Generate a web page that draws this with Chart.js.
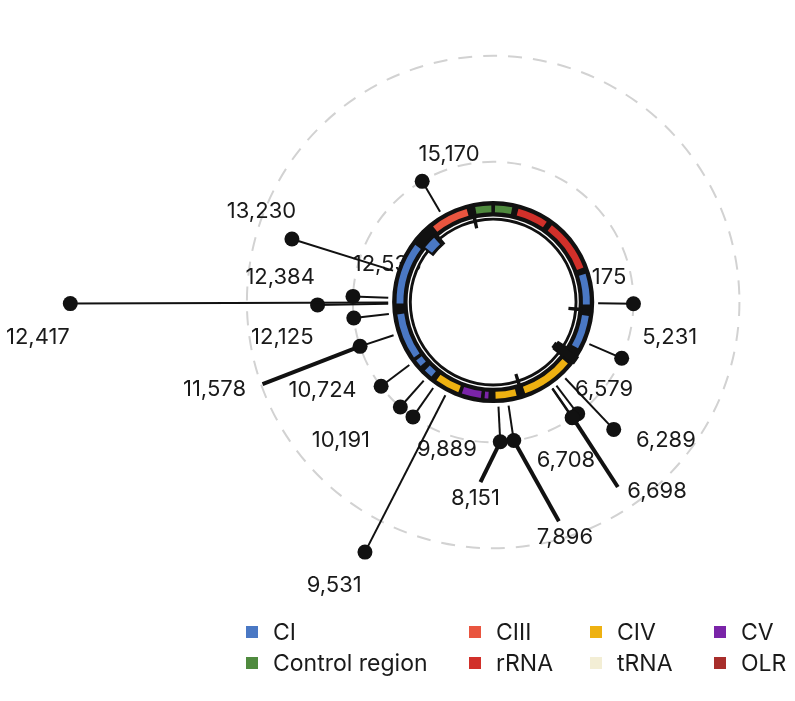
<!DOCTYPE html>
<html>
<head>
<meta charset="utf-8">
<script src="https://cdn.jsdelivr.net/npm/chart.js@4.4.1/dist/chart.umd.min.js"></script>
<style>
  body { margin: 0; background: #fff; }
  #wrap { position: relative; width: 795px; height: 701px; overflow: hidden; }
  #genomeChart { position: absolute; left: 0; top: 0; }
  .lg { position: absolute; display: flex; align-items: center; height: 28px;
        font-family: Inter, "Liberation Sans", sans-serif; font-size: 23px; color: #1a1a1a; white-space: nowrap; }
  .lg .sq { display: inline-block; width: 12px; height: 12px; margin-right: 15px; }
</style>
</head>
<body>
<div id="wrap">
  <canvas id="genomeChart" width="795" height="701"></canvas>
</div>
<script>
// mitochondrial genome length
const genomeLength = 16569;

// variant positions and number of carriers
const positions = [15170, 13230, 12533, 12417, 12384, 12125, 11578, 10724, 10191, 9889, 9531, 8151, 7896, 6708, 6698, 6579, 6289, 5231, 4175];
const counts    = [1, 3, 1, 9, 2, 1, 1, 1, 1, 1, 5, 1, 1, 1, 1, 1, 2, 1, 1];
const gridCounts = [1, 4];

// gene map (outer track = heavy strand, inner track = light strand)
const geneNames  = ["Control region", "Control region", "12S rRNA", "16S rRNA", "ND1", "ND2", "COX1", "COX2", "ATP8", "ATP6", "COX3", "ND3", "ND4L", "ND4", "ND5", "CYTB",
                    "ND6", "tRNA-Gln", "tRNA-Ala", "tRNA-Asn", "tRNA-Cys", "tRNA-Tyr", "tRNA-Ser", "tRNA-Glu", "tRNA-Pro", "OLR"];
const geneStart  = [16024, 1, 648, 1671, 3307, 4470, 5904, 7586, 8366, 8573, 9207, 10059, 10470, 10767, 12337, 14747,
                    14149, 4329, 5587, 5657, 5761, 5826, 7446, 14674, 15956, 5721];
const geneEnd    = [16569, 576, 1601, 3229, 4262, 5511, 7445, 8269, 8572, 9207, 9990, 10404, 10766, 12137, 14148, 15887,
                    14673, 4400, 5655, 5729, 5826, 5891, 7514, 14742, 16023, 5798];
const geneClass  = ["Control region", "Control region", "rRNA", "rRNA", "CI", "CI", "CIV", "CIV", "CV", "CV", "CIV", "CI", "CI", "CI", "CI", "CIII",
                    "CI", "tRNA", "tRNA", "tRNA", "tRNA", "tRNA", "tRNA", "tRNA", "tRNA", "OLR"];
const geneStrand = ["H", "H", "H", "H", "H", "H", "H", "H", "H", "H", "H", "H", "H", "H", "H", "H",
                    "L", "L", "L", "L", "L", "L", "L", "L", "L", "L"];

// legend
const legendLabels = ["CI", "CIII", "CIV", "CV", "Control region", "rRNA", "tRNA", "OLR"];
const legendColors = ["#4a78c4", "#e9553f", "#eeb111", "#7a24a8", "#4f8a3e", "#d1302a", "#f3eed5", "#a82e2b"];

// label layout (chart units) and leader lines for crowded labels
const labelPos = {
  15170: [-1.25, 4.19], 13230: [-6.56, 2.56], 12533: [-3.0, 1.08], 12417: [-12.89, -1.0],
  12384: [-6.03, 0.69], 12125: [-5.97, -1.0], 11578: [-7.89, -2.47], 10724: [-4.83, -2.5],
  10191: [-4.31, -3.94], 9889: [-1.31, -4.19], 9531: [-4.5, -8.03], 8151: [-0.5, -5.58],
  7896: [2.03, -6.69], 6708: [2.06, -4.5], 6698: [4.64, -5.36], 6579: [3.14, -2.47],
  6289: [4.89, -3.94], 5231: [5.0, -1.0], 4175: [3.03, 0.69]
};
const leaders = { 11578: [-6.53, -2.33], 8151: [-0.36, -5.11], 7896: [1.86, -6.22], 6698: [3.53, -5.25] };

// radius (chart units) where a count of zero sits
const baseRadius = 107 / 36;

function angleOf(pos) {
  return pos / genomeLength * Math.PI * 2;
}
function polar(pos, r) {
  const a = angleOf(pos);
  return { x: r * Math.sin(a), y: r * Math.cos(a) };
}

const classColor = {};
legendLabels.forEach((l, i) => { classColor[l] = legendColors[i]; });

const genomeRing = {
  id: "genomeRing",
  beforeDatasetsDraw(chart) {
    const { ctx, scales: { x, y } } = chart;
    const cx = x.getPixelForValue(0), cy = y.getPixelForValue(0);
    const u = x.getPixelForValue(1) - cx;
    const px = v => v * u / 36; // ring sizes given in 1/36 chart units

    function band(r0, r1, a0, a1) {
      ctx.beginPath();
      ctx.arc(cx, cy, r1, a0 - Math.PI / 2, a1 - Math.PI / 2);
      ctx.arc(cx, cy, r0, a1 - Math.PI / 2, a0 - Math.PI / 2, true);
      ctx.closePath();
    }

    ctx.save();
    // dashed reference circles
    ctx.strokeStyle = "#d2d2d2";
    ctx.lineWidth = 2;
    ctx.setLineDash([14, 11]);
    gridCounts.forEach(c => {
      ctx.beginPath();
      ctx.arc(cx, cy, (baseRadius + c) * u, 0, Math.PI * 2);
      ctx.stroke();
    });
    ctx.setLineDash([]);

    // position labels
    ctx.font = "22px Inter, 'Liberation Sans', sans-serif";
    ctx.fillStyle = "#1a1a1a";
    ctx.textAlign = "center";
    ctx.textBaseline = "middle";
    positions.forEach(p => {
      const lp = labelPos[p];
      ctx.fillText(p.toLocaleString("en-US"), x.getPixelForValue(lp[0]), y.getPixelForValue(lp[1]));
    });

    // ring background
    ctx.fillStyle = "#111";
    band(px(83), px(103), 0, Math.PI * 2);
    ctx.fill();
    ctx.strokeStyle = "#fff";
    ctx.lineWidth = 1.3;
    ctx.beginPath();
    ctx.arc(cx, cy, px(86.6), 0, Math.PI * 2);
    ctx.stroke();

    // genes
    geneNames.forEach((g, i) => {
      const a0 = angleOf(geneStart[i]), a1 = angleOf(geneEnd[i]);
      const cls = geneClass[i];
      if (geneStrand[i] === "H") {
        const r = px(95);
        const ins = 1.8 / r;
        ctx.fillStyle = classColor[cls];
        band(px(91.5), px(98.5), a0 + ins, a1 - ins);
        ctx.fill();
      } else if (cls === "tRNA") {
        const minW = 3.5 / px(84);
        const mid = (a0 + a1) / 2, half = Math.max((a1 - a0) / 2, minW / 2);
        ctx.fillStyle = "#111";
        band(px(77), px(91), mid - half, mid + half);
        ctx.fill();
      } else if (cls === "OLR") {
        ctx.fillStyle = "#111";
        band(px(75), px(104), a0 - 0.03, a1 + 0.03);
        ctx.fill();
      } else {
        const ins = 2 / px(84);
        ctx.fillStyle = "#111";
        band(px(77), px(92), a0, a1);
        ctx.fill();
        ctx.fillStyle = classColor[cls];
        band(px(80), px(89), a0 + ins, a1 - ins);
        ctx.fill();
      }
    });

    // leader lines from dots to crowded labels
    ctx.strokeStyle = "#111";
    ctx.lineWidth = 4;
    ctx.lineCap = "butt";
    positions.forEach((p, i) => {
      const end = leaders[p];
      if (!end) return;
      const d = polar(p, baseRadius + counts[i]);
      ctx.beginPath();
      ctx.moveTo(x.getPixelForValue(d.x), y.getPixelForValue(d.y));
      ctx.lineTo(x.getPixelForValue(end[0]), y.getPixelForValue(end[1]));
      ctx.stroke();
    });
    ctx.restore();
  }
};

// one lollipop per variant: stem from the ring out to the count
const datasets = positions.map((p, i) => ({
  label: String(p),
  data: [polar(p, baseRadius), polar(p, baseRadius + counts[i])],
  showLine: true,
  borderColor: "#111",
  borderWidth: 2,
  pointRadius: [0, 7.5],
  pointBackgroundColor: "#111",
  pointBorderWidth: 0
}));

const ctx = document.getElementById("genomeChart").getContext("2d");
const genomeChart = new Chart(ctx, {
  type: "scatter",
  data: { datasets: datasets },
  options: {
    responsive: false,
    animation: false,
    events: [],
    layout: { padding: 0 },
    scales: {
      x: { type: "linear", min: -13.75, max: 8.333, display: false },
      y: { type: "linear", min: -11.111, max: 8.361, display: false }
    },
    plugins: { legend: { display: false }, tooltip: { enabled: false } }
  },
  plugins: [genomeRing]
});

// legend in four columns, two rows
const legendCols = [246, 469, 590, 714];
const legendRows = [632, 663];
const wrap = document.getElementById("wrap");
legendLabels.forEach((l, i) => {
  const item = document.createElement("div");
  item.className = "lg";
  item.style.left = legendCols[i % 4] + "px";
  item.style.top = (legendRows[Math.floor(i / 4)] - 14) + "px";
  item.innerHTML = `<span class="sq" style="background:${legendColors[i]}"></span>${l}`;
  wrap.appendChild(item);
});
</script>
</body>
</html>
